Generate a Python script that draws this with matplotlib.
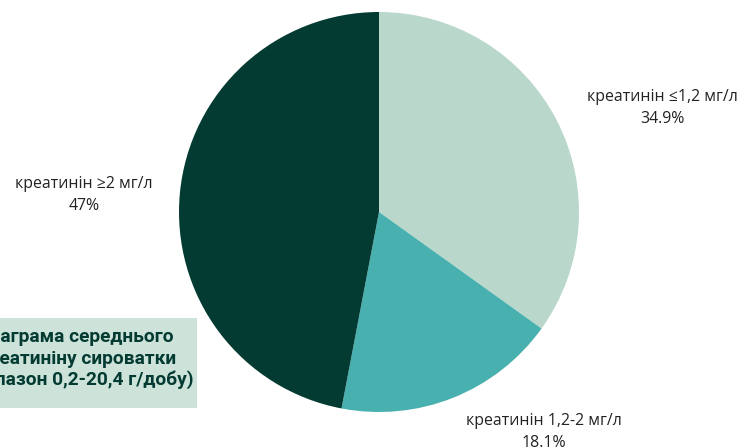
import matplotlib
matplotlib.use('Agg')
import matplotlib.pyplot as plt
from matplotlib.patches import Rectangle

labels = ['креатинін ≤1,2 мг/л', 'креатинін 1,2-2 мг/л', 'креатинін ≥2 мг/л']
values = [34.9, 18.1, 47.0]
pct_text = ['34.9%', '18.1%', '47%']
colors = ['#b9d8cb', '#48b0ae', '#033b33']
title_lines = ['Діаграма середнього', 'креатиніну сироватки', '(діапазон 0,2-20,4 г/добу)']

W, H = 739, 447
fig = plt.figure(figsize=(W / 100, H / 100), dpi=100)
ax = fig.add_axes([0, 0, 1, 1])

cx, cy, r = 379, H - 212, 200
ax.pie(values, colors=colors, startangle=90, counterclock=False,
       center=(cx, cy), radius=r, frame=True)
ax.set_xlim(0, W)
ax.set_ylim(0, H)
ax.set_aspect('equal')
ax.axis('off')

# label positions (pixels from top-left)
label_font = ['Open Sans', 'DejaVu Sans']
label_pos = [(662, 97), (544, 421), (84, 184)]
for lab, pct, (x, y) in zip(labels, pct_text, label_pos):
    ax.text(x, H - y, lab, ha='center', va='center', fontsize=11.4,
            family=label_font, color='#222222')
    ax.text(x, H - y - 22, pct, ha='center', va='center', fontsize=11.4,
            family=label_font, color='#222222')

# title box, cut off at left edge
ax.add_patch(Rectangle((-200, H - 408), 397, 90, facecolor='#cde3d9',
                       edgecolor='none', zorder=3))
for i, line in enumerate(title_lines):
    ax.text(77, H - 337 - i * 21.5, line, ha='center', va='center',
            fontsize=13.8, fontweight='bold', family='Roboto',
            color='#033b33', zorder=4)

fig.savefig('out.png', dpi=100)
